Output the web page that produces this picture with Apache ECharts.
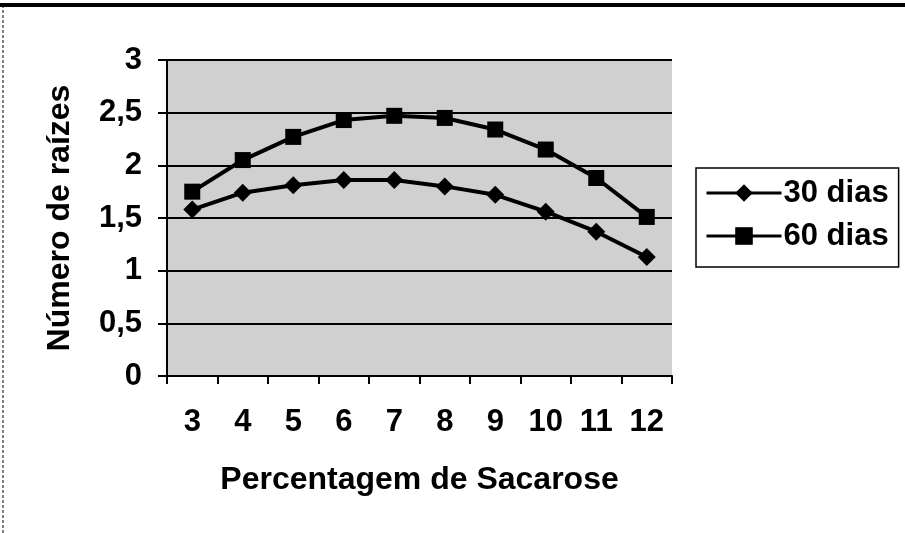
<!DOCTYPE html>
<html><head><meta charset="utf-8">
<script src="https://cdn.jsdelivr.net/npm/echarts@6/dist/echarts.min.js"></script>
<style>html,body{margin:0;padding:0;background:#fff}#c{width:905px;height:533px}</style>
</head><body><div id="c"></div>
<script>
const categories = ['3','4','5','6','7','8','9','10','11','12'];
const dias30 = [1.58, 1.74, 1.81, 1.86, 1.86, 1.80, 1.72, 1.56, 1.37, 1.13];
const dias60 = [1.75, 2.05, 2.27, 2.43, 2.47, 2.45, 2.34, 2.15, 1.88, 1.51];
const yTicks = ['0','0,5','1','1,5','2','2,5','3'];

const chart = echarts.init(document.getElementById('c'));
const font = 'Liberation Sans, Arial, sans-serif';
chart.setOption({
  animation: false,
  backgroundColor: '#fff',
  graphic: [
    {type:'line', shape:{x1:0,y1:5,x2:905,y2:5}, style:{stroke:'#000', lineWidth:4}},
    {type:'line', shape:{x1:3,y1:5,x2:3,y2:533}, style:{stroke:'#000', lineWidth:1, lineDash:[3,2]}}
  ],
  grid: {left:167, top:60, width:505, height:316, show:true, backgroundColor:'#d0d0d0', borderWidth:0},
  legend: {
    left: 696, top: 168,
    orient: 'vertical', itemGap: 11, padding:[9,10,15,9],
    borderColor:'#000', borderWidth:1.5, backgroundColor:'#fff',
    itemWidth: 75, itemHeight: 22,
    lineStyle:{width:3, color:'#000'},
    textStyle:{fontFamily:font, fontWeight:'bold', fontSize:31, lineHeight:32, color:'#000', padding:[0,0,0,-3]},
    data: ['30 dias','60 dias']
  },
  xAxis: {
    type:'category', data: categories, boundaryGap:true,
    name:'Percentagem de Sacarose', nameLocation:'middle', nameGap:88,
    nameTextStyle:{fontFamily:font, fontWeight:'bold', fontSize:32, color:'#000'},
    axisLine:{lineStyle:{color:'#000', width:2}},
    axisTick:{show:true, length:8, lineStyle:{color:'#000', width:2}},
    axisLabel:{fontFamily:font, fontWeight:'bold', fontSize:31, color:'#000', margin:31}
  },
  yAxis: {
    type:'value', min:0, max:3, interval:0.5,
    name:'Número de raízes', nameLocation:'middle', nameGap:91,
    nameTextStyle:{fontFamily:font, fontWeight:'bold', fontSize:32, color:'#000'},
    axisLine:{show:true, lineStyle:{color:'#000', width:2}},
    axisTick:{show:true, length:9, lineStyle:{color:'#000', width:2}},
    splitLine:{show:true, lineStyle:{color:'#000', width:2}},
    axisLabel:{fontFamily:font, fontWeight:'bold', fontSize:31, color:'#000', margin:25,
      formatter: v => yTicks[Math.round(v*2)]}
  },
  series: [
    {name:'30 dias', type:'line', data: dias30, symbol:'diamond', symbolSize:18,
      lineStyle:{color:'#000', width:4}, itemStyle:{color:'#000'}},
    {name:'60 dias', type:'line', data: dias60, symbol:'rect', symbolSize:16,
      lineStyle:{color:'#000', width:4}, itemStyle:{color:'#000'}}
  ]
});
</script></body></html>
